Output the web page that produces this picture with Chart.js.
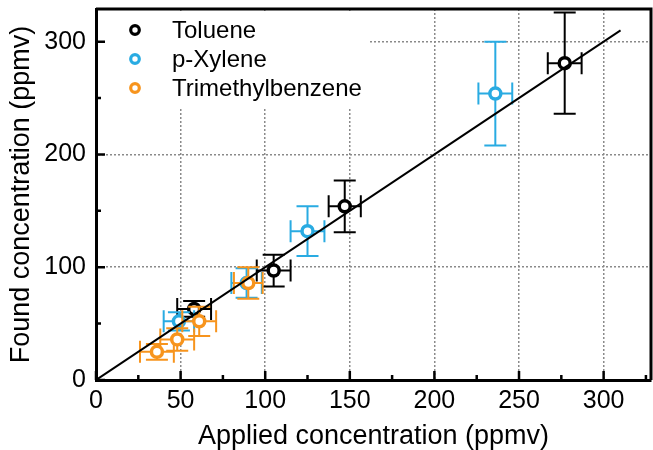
<!DOCTYPE html>
<html>
<head>
<meta charset="utf-8">
<script src="https://cdn.jsdelivr.net/npm/chart.js@4.4.0/dist/chart.umd.min.js"></script>
<style>
  html, body { margin: 0; padding: 0; background: #fff; }
  #wrap { width: 653px; height: 450px; }
</style>
</head>
<body>
<div id="wrap"><canvas id="chart" width="653" height="450"></canvas></div>
<script>
// series values (ppmv)
const seriesNames = ['Toluene', 'p-Xylene', 'Trimethylbenzene'];
const seriesColors = ['#000000', '#29abe2', '#f7941d'];

const tolueneX = [58, 105, 147, 277];
const tolueneY = [63, 97, 154, 281];
const tolueneXErr = [10, 10, 9.5, 10];
const tolueneYErr = [7, 14, 23, 45];

const xyleneX = [49, 89, 125, 236];
const xyleneY = [52, 86, 132, 254];
const xyleneXErr = [9, 9, 10, 10];
const xyleneYErr = [8, 13, 22, 46];

const tmbX = [36, 48, 61, 90];
const tmbY = [25, 36, 52, 86];
const tmbXErr = [10, 10, 10, 8.5];
const tmbYErr = [7, 10, 13, 14];

// 1:1 fit line
const fitX = [0, 310];
const fitY = [0, 310];

// axes
const xTicks = [0, 50, 100, 150, 200, 250, 300];
const xMinorTicks = [25, 75, 125, 175, 225, 275, 325];
const yTicks = [0, 100, 200, 300];
const yMinorTicks = [50, 150, 250];
const xMax = 328;
const yMax = 329;

const FONT = '"Liberation Sans", Arial, sans-serif';

const toPoints = (xs, ys) => xs.map((v, i) => ({ x: v, y: ys[i] }));

function markerSet(idx, xs, ys, xErr, yErr, order) {
  return {
    label: seriesNames[idx],
    data: toPoints(xs, ys),
    xErr,
    yErr,
    order,
    borderColor: seriesColors[idx],
    backgroundColor: '#fff',
    pointRadius: 5.5,
    pointBorderWidth: 3.5,
    showLine: false
  };
}

// error bars drawn under each dataset's markers
const errorBars = {
  id: 'errorBars',
  beforeDatasetDraw(chart, args) {
    const ds = chart.data.datasets[args.index];
    if (!ds.xErr) return;
    const { ctx, scales: { x, y } } = chart;
    const cap = 11;
    ctx.save();
    ctx.strokeStyle = ds.borderColor;
    ctx.lineWidth = 2;
    ds.data.forEach((p, i) => {
      const px = x.getPixelForValue(p.x);
      const py = y.getPixelForValue(p.y);
      const x1 = x.getPixelForValue(p.x - ds.xErr[i]);
      const x2 = x.getPixelForValue(p.x + ds.xErr[i]);
      const y1 = y.getPixelForValue(p.y - ds.yErr[i]);
      const y2 = y.getPixelForValue(p.y + ds.yErr[i]);
      ctx.beginPath();
      ctx.moveTo(x1, py); ctx.lineTo(x2, py);
      ctx.moveTo(x1, py - cap); ctx.lineTo(x1, py + cap);
      ctx.moveTo(x2, py - cap); ctx.lineTo(x2, py + cap);
      ctx.moveTo(px, y1); ctx.lineTo(px, y2);
      ctx.moveTo(px - cap, y1); ctx.lineTo(px + cap, y1);
      ctx.moveTo(px - cap, y2); ctx.lineTo(px + cap, y2);
      ctx.stroke();
    });
    ctx.restore();
  }
};

// frame, inward ticks and the legend box
const frame = {
  id: 'frame',
  beforeDatasetsDraw(chart) {
    const { ctx, chartArea: a, scales: { x, y } } = chart;
    ctx.save();

    // legend (white box hides the grid behind it)
    ctx.fillStyle = '#fff';
    ctx.fillRect(a.left + 2, a.top + 2, 272, 96);
    ctx.font = '24px ' + FONT;
    ctx.textBaseline = 'middle';
    seriesNames.forEach((name, i) => {
      const cy = a.top + 21 + i * 29;
      ctx.beginPath();
      ctx.arc(a.left + 39, cy, 4.3, 0, Math.PI * 2);
      ctx.strokeStyle = seriesColors[i];
      ctx.lineWidth = 3.2;
      ctx.stroke();
      ctx.fillStyle = '#000';
      ctx.fillText(name, a.left + 76, cy + 1);
    });

    ctx.strokeStyle = '#000';
    ctx.lineWidth = 2.5;
    ctx.beginPath();
    xTicks.forEach(v => { const p = x.getPixelForValue(v); ctx.moveTo(p, a.bottom); ctx.lineTo(p, a.bottom - 9); });
    xMinorTicks.forEach(v => { const p = x.getPixelForValue(v); ctx.moveTo(p, a.bottom); ctx.lineTo(p, a.bottom - 5); });
    yTicks.forEach(v => { const p = y.getPixelForValue(v); ctx.moveTo(a.left, p); ctx.lineTo(a.left + 9, p); });
    yMinorTicks.forEach(v => { const p = y.getPixelForValue(v); ctx.moveTo(a.left, p); ctx.lineTo(a.left + 5, p); });
    ctx.stroke();

    ctx.lineWidth = 3;
    ctx.beginPath();
    ctx.moveTo(a.left, a.top); ctx.lineTo(a.right, a.top); ctx.lineTo(a.right, a.bottom);
    ctx.stroke();
    ctx.restore();
  }
};

new Chart(document.getElementById('chart'), {
  type: 'scatter',
  data: {
    datasets: [
      {
        label: 'fit',
        type: 'line',
        data: toPoints(fitX, fitY),
        borderColor: '#000',
        borderWidth: 2,
        pointRadius: 0,
        order: 0
      },
      markerSet(2, tmbX, tmbY, tmbXErr, tmbYErr, 1),
      markerSet(1, xyleneX, xyleneY, xyleneXErr, xyleneYErr, 2),
      markerSet(0, tolueneX, tolueneY, tolueneXErr, tolueneYErr, 3)
    ]
  },
  options: {
    responsive: false,
    animation: false,
    layout: { autoPadding: false, padding: { top: 9, right: 2, left: 0, bottom: 0 } },
    plugins: {
      legend: { display: false },
      tooltip: { enabled: false }
    },
    scales: {
      x: {
        type: 'linear',
        min: 0,
        max: xMax,
        afterBuildTicks: s => { s.ticks = xTicks.map(v => ({ value: v })); },
        afterFit: s => { s.height = 70; s.paddingLeft = 0; s.paddingRight = 0; },
        grid: {
          color: ctx => (ctx.tick && ctx.tick.value === 0 ? 'transparent' : '#8a8a8a'),
          lineWidth: 1.5,
          drawTicks: false
        },
        border: { color: '#000', width: 3, dash: [2, 2] },
        ticks: { color: '#000', padding: 6, font: { size: 25, family: FONT }, maxRotation: 0 },
        title: {
          display: true,
          text: 'Applied concentration (ppmv)',
          color: '#000',
          font: { size: 27, family: FONT, lineHeight: 1 },
          padding: 0
        }
      },
      y: {
        type: 'linear',
        min: 0,
        max: yMax,
        afterBuildTicks: s => { s.ticks = yTicks.map(v => ({ value: v })); },
        afterFit: s => { s.width = 96; s.paddingTop = 0; s.paddingBottom = 0; },
        grid: {
          color: ctx => (ctx.tick && ctx.tick.value === 0 ? 'transparent' : '#8a8a8a'),
          lineWidth: 1.5,
          drawTicks: false
        },
        border: { color: '#000', width: 3, dash: [2, 2] },
        ticks: { color: '#000', padding: 10, font: { size: 25, family: FONT } },
        title: {
          display: true,
          text: 'Found concentration (ppmv)',
          color: '#000',
          font: { size: 27, family: FONT, lineHeight: 1 },
          padding: { top: 8, bottom: 0 }
        }
      }
    }
  },
  plugins: [errorBars, frame]
});
</script>
</body>
</html>
